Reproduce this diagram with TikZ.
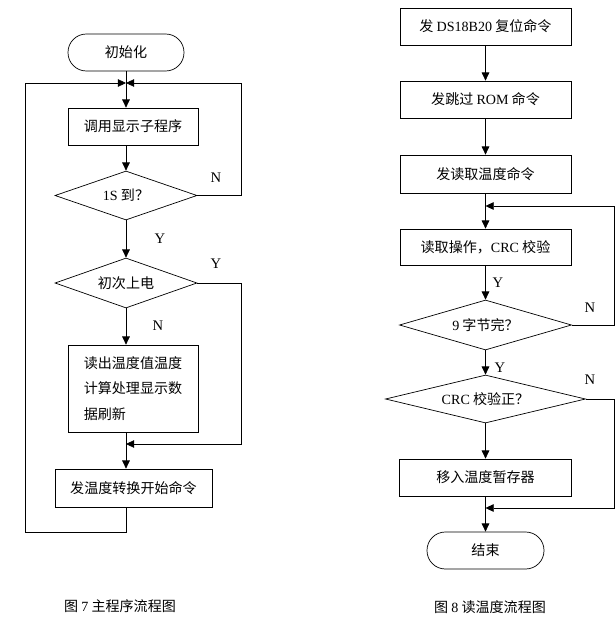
\documentclass[tikz,border=0pt]{standalone}
\usepackage{fontspec}
\setmainfont{Liberation Serif}
\newfontfamily\cjk{Noto Sans CJK SC}
\usetikzlibrary{arrows.meta,shapes.geometric,calc}

\tikzset{
    wire/.style={line width=0.6pt},
    flow/.style={line width=0.6pt, -{Triangle[length=7pt,width=6.5pt]}},
    box/.style={draw, line width=0.6pt, inner sep=2pt, font=\cjk\fontsize{12}{14}\selectfont},
    cond/.style={draw, diamond, aspect=3.5, line width=0.6pt, inner sep=0pt, font=\cjk\fontsize{12}{14}\selectfont},
    term/.style={draw, line width=0.6pt, rounded corners=0.55cm, minimum height=1.11cm, font=\cjk\fontsize{12}{14}\selectfont},
    yn/.style={font=\fontsize{12.5}{14}\selectfont},
    caption/.style={font=\cjk\fontsize{12}{14}\selectfont},
}

\begin{document}
\begin{tikzpicture}[x=0.03cm, y=-0.03cm]

    \useasboundingbox (0,0) rectangle (615,618);

    \pgfmathsetmacro{\lx}{25}
    \pgfmathsetmacro{\rx}{241}
    \pgfmathsetmacro{\qx}{614}

    % 主程序流程图
    \node[term, minimum width=3.48cm] (start) at (126,52.5) {初始化};
    \coordinate (jn1) at (126,83);
    \node[box, minimum width=3.9cm, minimum height=1.11cm] (disp) at (133,126.5) {调用显示子程序};
    \node[cond, minimum width=4.26cm, minimum height=1.47cm] (d1) at (126,195.5) {{\rmfamily 1S} 到？};
    \node[cond, minimum width=4.26cm, minimum height=1.5cm] (d2) at (126,283) {初次上电};
    \node[box, align=left, minimum width=3.9cm, minimum height=2.61cm,
          font=\cjk\fontsize{12}{21.5}\selectfont] (proc) at (133,388.5)
          {读出温度值温度\\计算处理显示数\\据刷新};
    \coordinate (jn2) at (126,444);
    \node[box, minimum width=4.71cm, minimum height=1.14cm] (conv) at (133.5,488) {发温度转换开始命令};

    \coordinate (r1) at (\rx,83);
    \coordinate (r2) at (\rx,444);
    \coordinate (l1) at (\lx,83);
    \coordinate (l2) at (\lx,532);

    \draw[wire] (start.south) -- (jn1);
    \draw[flow] (jn1) -- (jn1 |- disp.north);
    \draw[flow] (disp.south -| jn1) -- (d1.north);
    \draw[flow] (d1.east) -| (r1) -- (jn1);
    \draw[flow] (d1.south) -- (d2.north);
    \draw[flow] (d2.east) -| (r2) -- (jn2);
    \draw[flow] (d2.south) -- (d2.south |- proc.north);
    \draw[wire] (proc.south -| jn2) -- (jn2);
    \draw[flow] (jn2) -- (jn2 |- conv.north);
    \draw[flow] (conv.south -| jn2) |- (l2) -- (l1) -- (jn1);

    \node[yn] (n1) at (216,178) {N};
    \node[yn] (y1) at (160,239) {Y};
    \node[yn] (y2) at (216,264) {Y};
    \node[yn] (n2) at (158,326) {N};

    \node[caption] (cap7) at (120,606) {图 {\rmfamily 7} 主程序流程图};

    % 读温度流程图
    \node[box, minimum width=5.13cm, minimum height=1.11cm] (b1) at (485.5,26.5) {发 {\rmfamily DS18B20} 复位命令};
    \node[box, minimum width=5.13cm, minimum height=1.11cm] (b2) at (485.5,99.5) {发跳过 {\rmfamily ROM} 命令};
    \node[box, minimum width=5.13cm, minimum height=1.14cm] (b3) at (485.5,174) {发读取温度命令};
    \coordinate (jn3) at (485.5,206);
    \node[box, minimum width=5.13cm, minimum height=1.08cm] (b4) at (485.5,247) {读取操作，{\rmfamily CRC} 校验};
    \node[cond, minimum width=5.16cm, minimum height=1.5cm] (d3) at (485.5,325) {{\rmfamily 9} 字节完？};
    \node[cond, minimum width=6cm, minimum height=1.44cm] (d4) at (485.5,399) {{\rmfamily CRC} 校验正？};
    \node[box, minimum width=5.16cm, minimum height=1.11cm] (b5) at (485.5,477.5) {移入温度暂存器};
    \coordinate (jn4) at (485.5,508);
    \node[term, minimum width=3.51cm] (stop) at (485.5,550.5) {结束};

    \coordinate (r3) at (\qx,206);
    \coordinate (r4) at (\qx,508);

    \draw[flow] (b1.south) -- (b2.north);
    \draw[flow] (b2.south) -- (b3.north);
    \draw[wire] (b3.south) -- (jn3);
    \draw[flow] (jn3) -- (b4.north);
    \draw[flow] (b4.south) -- (d3.north);
    \draw[flow] (d3.east) -| (r3) -- (jn3);
    \draw[flow] (d3.south) -- (d4.north);
    \draw[flow] (d4.east) -| (r4) -- (jn4);
    \draw[flow] (d4.south) -- (b5.north);
    \draw[wire] (b5.south) -- (jn4);
    \draw[flow] (jn4) -- (stop.north);

    \node[yn] (y3) at (498,283) {Y};
    \node[yn] (n3) at (590,308) {N};
    \node[yn] (y4) at (500,368) {Y};
    \node[yn] (n4) at (590,380) {N};

    \node[caption] (cap8) at (490,607) {图 {\rmfamily 8} 读温度流程图};

\end{tikzpicture}
\end{document}
